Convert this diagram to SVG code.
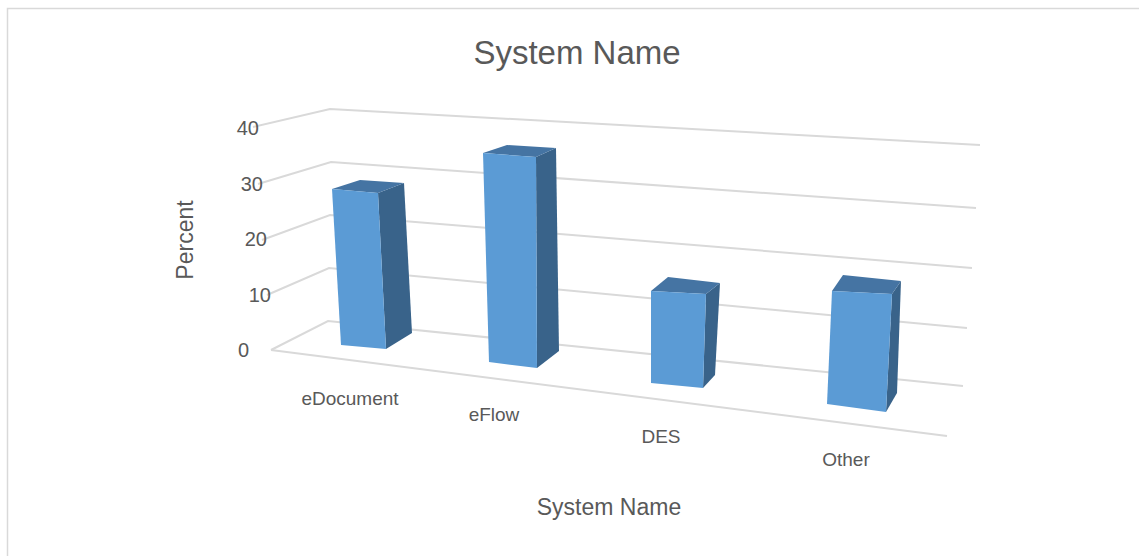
<svg xmlns="http://www.w3.org/2000/svg" width="1139" height="556" viewBox="0 0 1139 556">
  <style>
    .txt { font-family: "Liberation Sans", Arial, sans-serif; fill: #595959; }
    .tick { font-size: 20px; text-anchor: end; }
    .cat { font-size: 19px; text-anchor: middle; }
    .grid { fill: none; stroke: #D9D9D9; stroke-width: 2; }
    .front { fill: #5B9BD5; }
    .top { fill: #4574A3; }
    .side { fill: #39638A; }
  </style>
  <rect x="0" y="0" width="1139" height="556" fill="#FFFFFF"/>
  <!-- chart frame -->
  <path d="M7.5,556 V8.5 H1139" fill="none" stroke="#D9D9D9" stroke-width="1.5"/>

  <text class="txt" x="577" y="64" font-size="33" text-anchor="middle">System Name</text>

  <!-- gridlines: side wall + back wall -->
  <g id="gridlines">
    <polyline class="grid" points="253,127 330,109 980,145"/>
    <polyline class="grid" points="258,184 331,162 976,208"/>
    <polyline class="grid" points="262,240 330,215 972,268"/>
    <polyline class="grid" points="267,295 329,268 967,328"/>
    <polyline class="grid" points="271,350 328,321 963,386"/>
    <line class="grid" x1="271" y1="350" x2="947" y2="436"/>
  </g>

  <g id="axis-ticks">
    <text class="txt tick" x="259" y="135">40</text>
    <text class="txt tick" x="263" y="191">30</text>
    <text class="txt tick" x="267" y="246">20</text>
    <text class="txt tick" x="271" y="302">10</text>
    <text class="txt tick" x="249" y="357">0</text>
  </g>

  <text class="txt" font-size="23" text-anchor="middle" transform="translate(193,240) rotate(-90)">Percent</text>

  <g id="bar-edocument">
    <polygon class="side" points="378,193 404,183 412,333 386,349"/>
    <polygon class="top" points="332,189 360,180 404,183 378,193"/>
    <polygon class="front" points="332,189 378,193 386,349 341,345"/>
  </g>
  <g id="bar-eflow">
    <polygon class="side" points="536,157 556,148 559,351 537,368"/>
    <polygon class="top" points="483,153 507,145 556,148 536,157"/>
    <polygon class="front" points="483,153 536,157 537,368 489,362"/>
  </g>
  <g id="bar-des">
    <polygon class="side" points="706,294 720,283 715,375 703,388"/>
    <polygon class="top" points="651,291 668,277 720,283 706,294"/>
    <polygon class="front" points="651,291 706,294 703,388 651,383"/>
  </g>
  <g id="bar-other">
    <polygon class="side" points="892,294 901,281 897,393 886,412"/>
    <polygon class="top" points="832,291 843,275 901,281 892,294"/>
    <polygon class="front" points="832,291 892,294 886,412 827,404"/>
  </g>

  <g id="category-labels">
    <text class="txt cat" x="350" y="405">eDocument</text>
    <text class="txt cat" x="494" y="421">eFlow</text>
    <text class="txt cat" x="661" y="443">DES</text>
    <text class="txt cat" x="846" y="466">Other</text>
  </g>

  <text class="txt" x="609" y="515" font-size="23" text-anchor="middle">System Name</text>
</svg>
